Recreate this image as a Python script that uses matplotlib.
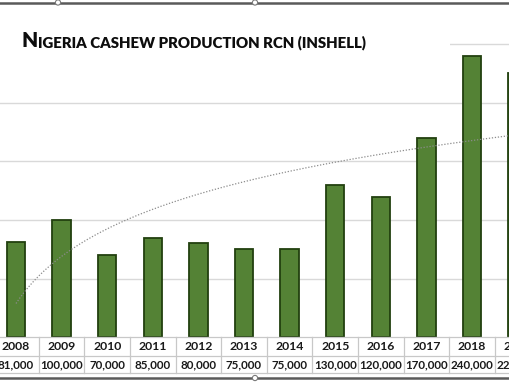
import numpy as np
import matplotlib
matplotlib.use("Agg")
import matplotlib.pyplot as plt
from matplotlib.transforms import blended_transform_factory
from matplotlib.patches import Rectangle, Circle
from matplotlib.lines import Line2D

years = ["2008", "2009", "2010", "2011", "2012", "2013", "2014", "2015",
         "2016", "2017", "2018", "2019", "2020"]
production = [81000, 100000, 70000, 85000, 80000, 75000, 75000, 130000,
              120000, 170000, 240000, 225000, 230000]
value_labels = [f"{v:,}" for v in production]
gridlines = [50000, 100000, 150000, 200000, 250000]

W, H = 510, 382
fig = plt.figure(figsize=(W / 100, H / 100), dpi=100)
fig.patch.set_facecolor("white")

def fy(px):  # pixel from top -> figure fraction
    return 1 - px / H

base_px = 337.4
px_per_unit = 117.4 / 100000
ax = fig.add_axes([0, fy(base_px), 1, base_px / H])
ax.set_xlim(-16 / 45.6, (W - 16) / 45.6)
ax.set_ylim(0, base_px / px_per_unit)
ax.axis("off")

x = np.arange(len(years))
for g in gridlines:
    ax.axhline(g, color="#d9d9d9", lw=1.0, zorder=1)

ax.bar(x, production, width=0.40, color="#548235", edgecolor="#22400f",
       linewidth=1.3, zorder=3)

# logarithmic trendline (least squares on ln x)
lx = np.log(x + 1)
b, a = np.polyfit(lx, production, 1)
xt = np.linspace(0, len(years) - 1, 300)
ax.plot(xt, a + b * np.log(xt + 1), color="#8c8c8c", lw=0.9,
        linestyle=(0, (1, 1.4)), zorder=4)

# data table
tr = blended_transform_factory(ax.transData, fig.transFigure)
for i, (yr, vl) in enumerate(zip(years, value_labels)):
    ax.text(i, fy(346.5), yr, transform=tr, ha="center", va="center",
            fontsize=8.8, fontweight="bold", family="Lato", color="#1a1a1a",
            clip_on=False)
    ax.text(i, fy(364.5), vl, transform=tr, ha="center", va="center",
            fontsize=8.4, fontweight="bold", family="Lato", color="#1a1a1a",
            clip_on=False)
tcol = "#c8c8c8"
for ypx in (337, 356, 373):
    fig.add_artist(Line2D([0, 1], [fy(ypx), fy(ypx)], color=tcol, lw=0.9))
for i in range(-1, len(years)):
    xv = i + 0.5
    fig.add_artist(Line2D([xv, xv], [fy(337), fy(373)], color=tcol, lw=0.9,
                          transform=tr))

# title box hiding the top gridline
fig.add_artist(Rectangle((0, fy(58)), 450 / W, 30 / H, transform=fig.transFigure,
                         facecolor="white", edgecolor="none", zorder=5))
t1 = fig.text(22 / W, fy(47), "N", fontsize=15.0, fontweight="heavy",
              family="Lato", color="#0d0d0d", va="baseline", zorder=6)
fig.canvas.draw()
bb = t1.get_window_extent()
fig.text(bb.x1 / W, fy(47), "IGERIA CASHEW PRODUCTION RCN (INSHELL)",
         fontsize=10.8, fontweight="heavy", family="Lato", color="#0d0d0d",
         va="baseline", zorder=6)

# chart frame (selection border) top and bottom
for ypx in (2.5, 378):
    fig.add_artist(Line2D([0, 1], [fy(ypx), fy(ypx)], color="#5a5a5a", lw=1.8,
                          zorder=7))
for (cx, cy) in ((58, 2.5), (255, 2.5), (255, 378)):
    fig.add_artist(Circle((cx, H - cy), 2.6, transform=None, facecolor="white",
                          edgecolor="#7a7a7a", lw=0.8, zorder=8))

fig.savefig("out.png", dpi=100, facecolor="white")
